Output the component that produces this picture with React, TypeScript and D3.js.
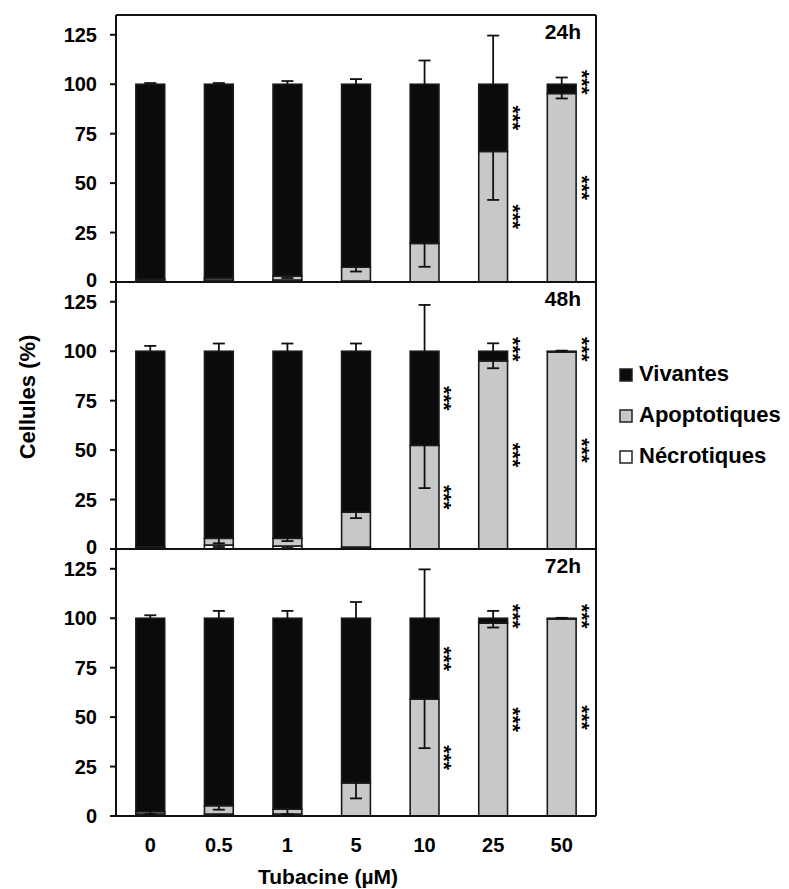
import React from "react";
import * as d3 from "d3";

// ---- data ----
const concentrations = ["0", "0.5", "1", "5", "10", "25", "50"];
const yTicks = [0, 25, 50, 75, 100, 125];
const seriesNames = ["Vivantes", "Apoptotiques", "Nécrotiques"];
const panelLabels = ["24h", "48h", "72h"];

// 24h
const necro24 = [1, 1, 1, 0.5, 0, 0, 0];
const apo24 = [0.5, 1, 2, 7, 19.5, 66, 95.3];
const apoErr24 = [0, 0, 1, 2.2, 11.8, 24.5, 2.5];
const necroErr24 = [0, 0, 0, 0, 0, 0, 0];
const vivErr24 = [0.6, 0.6, 1.6, 2.6, 12, 24.6, 3.4];
const sig24 = [0, 0, 0, 0, 0, 1, 1];

// 48h
const necro48 = [0.5, 2, 1.5, 1, 0, 0, 0];
const apo48 = [0.7, 3.4, 3.9, 17.6, 52.4, 95.1, 99.6];
const apoErr48 = [0, 2.5, 1.4, 3, 21.6, 3.7, 0];
const necroErr48 = [0, 1, 1, 0.8, 0, 0, 0];
const vivErr48 = [2.7, 3.9, 3.9, 3.9, 23.4, 4, 0.3];
const sig48 = [0, 0, 0, 0, 1, 1, 1];

// 72h
const necro72 = [1, 1, 1, 0, 0, 0, 0];
const apo72 = [1.2, 4.2, 2.5, 16.7, 59.1, 97.5, 99.6];
const apoErr72 = [1.2, 2, 2.6, 7.8, 24.8, 2.2, 0];
const necroErr72 = [0, 0.8, 0.8, 0, 0, 0, 0];
const vivErr72 = [1.5, 3.7, 3.7, 8.2, 24.7, 3.7, 0.2];
const sig72 = [0, 0, 0, 0, 1, 1, 1];

const panels = [
  { label: panelLabels[0], necro: necro24, apo: apo24, apoErr: apoErr24, necroErr: necroErr24, vivErr: vivErr24, sig: sig24 },
  { label: panelLabels[1], necro: necro48, apo: apo48, apoErr: apoErr48, necroErr: necroErr48, vivErr: vivErr48, sig: sig48 },
  { label: panelLabels[2], necro: necro72, apo: apo72, apoErr: apoErr72, necroErr: necroErr72, vivErr: vivErr72, sig: sig72 },
];

// ---- layout ----
const W = 789;
const H = 889;
const left = 116;
const right = 596;
const top0 = 15;
const panelH = 267;
const FONT = "'Liberation Sans', Arial, Helvetica, sans-serif";
const GRAY = "#c8c8c8";
const BLACK = "#0b0b0b";
const capW = 12;

export default function App() {
  const x = d3
    .scaleBand<string>()
    .domain(concentrations)
    .range([left, right])
    .paddingInner(0.58)
    .paddingOuter(0.29);
  const bw = x.bandwidth();
  const bottomAll = top0 + panelH * panels.length;

  return (
    <svg
      width={W}
      height={H}
      style={{ position: "absolute", left: 0, top: 0, background: "#fff" }}
      fontFamily={FONT}
      fontWeight="bold"
    >
      {panels.map((p, i) => {
        const pt = top0 + i * panelH;
        const pb = pt + panelH;
        const y = d3.scaleLinear().domain([0, 135]).range([pb, pt]);
        return (
          <g key={p.label}>
            {concentrations.map((c, j) => {
              const x0 = x(c)!;
              const cx = x0 + bw / 2;
              const n = p.necro[j];
              const a = p.apo[j];
              const na = n + a;
              const segs = [
                { lo: 0, hi: n, fill: "#ffffff" },
                { lo: n, hi: na, fill: GRAY },
                { lo: na, hi: 100, fill: BLACK },
              ].filter((s) => s.hi - s.lo > 0.05);
              const whisk = (from: number, to: number, key: string) => (
                <g key={key} stroke="#111" strokeWidth={1.8}>
                  <line x1={cx} x2={cx} y1={y(from)} y2={y(to)} />
                  <line x1={cx - capW / 2} x2={cx + capW / 2} y1={y(to)} y2={y(to)} />
                </g>
              );
              const vivSeg = 100 - na;
              const upperAst = vivSeg >= 10 ? na + vivSeg / 2 : 101;
              const lowerAst = na / 2;
              return (
                <g key={c}>
                  {segs.map((s, k) => (
                    <rect
                      key={k}
                      x={x0}
                      width={bw}
                      y={y(s.hi)}
                      height={y(s.lo) - y(s.hi)}
                      fill={s.fill}
                      stroke="#1a1a1a"
                      strokeWidth={1.6}
                    />
                  ))}
                  {p.vivErr[j] > 0 && whisk(100, 100 + p.vivErr[j], "v")}
                  {p.apoErr[j] > 0 && whisk(na, na - p.apoErr[j], "a")}
                  {p.necroErr[j] > 0 && whisk(n, Math.max(0, n - p.necroErr[j]), "n")}
                  {p.sig[j] === 1 && (
                    <g fontSize={21}>
                      <text transform={`translate(${cx + 25},${y(upperAst)}) rotate(90)`} textAnchor="middle" dy="0.58em">
                        ***
                      </text>
                      <text transform={`translate(${cx + 25},${y(lowerAst)}) rotate(90)`} textAnchor="middle" dy="0.58em">
                        ***
                      </text>
                    </g>
                  )}
                </g>
              );
            })}
            {/* x-axis line of the panel */}
            <line x1={110} x2={right} y1={pb} y2={pb} stroke="#111" strokeWidth={2} />
            {/* y ticks */}
            {yTicks.map((t) => (
              <g key={t}>
                <line x1={110} x2={left} y1={y(t)} y2={y(t)} stroke="#111" strokeWidth={2} />
                <text
                  x={97}
                  y={y(t) + (t === 0 && i < panels.length - 1 ? -2 : 0)}
                  dy="0.36em"
                  textAnchor="end"
                  fontSize={20}
                >
                  {t}
                </text>
              </g>
            ))}
            <text x={581} y={pt + 24} textAnchor="end" fontSize={21}>
              {p.label}
            </text>
          </g>
        );
      })}
      {/* frame */}
      <line x1={left} x2={left} y1={top0} y2={bottomAll} stroke="#111" strokeWidth={2} />
      <line x1={right} x2={right} y1={top0} y2={bottomAll} stroke="#111" strokeWidth={2} />
      <line x1={left} x2={right} y1={top0} y2={top0} stroke="#111" strokeWidth={2} />

      {/* x tick labels */}
      {concentrations.map((c) => (
        <text key={c} x={x(c)! + bw / 2} y={852} textAnchor="middle" fontSize={20}>
          {c}
        </text>
      ))}
      <text x={328} y={884} textAnchor="middle" fontSize={21}>
        Tubacine (µM)
      </text>
      <text transform="translate(35,397) rotate(-90)" textAnchor="middle" fontSize={22}>
        Cellules (%)
      </text>

      {/* legend */}
      {seriesNames.map((s, k) => {
        const fills = [BLACK, GRAY, "#ffffff"];
        const ly = 369 + k * 41;
        return (
          <g key={s}>
            <rect x={620} y={ly} width={12} height={12} fill={fills[k]} stroke="#222" strokeWidth={1.5} />
            <text x={639} y={ly + 12} fontSize={22}>
              {s}
            </text>
          </g>
        );
      })}
    </svg>
  );
}
